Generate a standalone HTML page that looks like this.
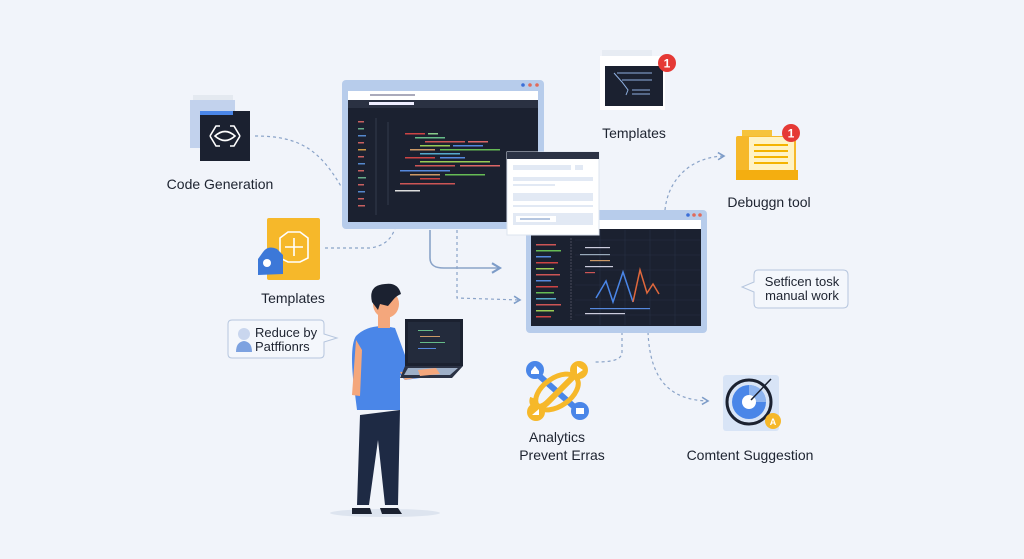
<!DOCTYPE html>
<html><head><meta charset="utf-8"><style>
html,body{margin:0;padding:0;background:#f1f4fa;}
svg{display:block}
text{font-family:"Liberation Sans",sans-serif;fill:#1d2330}
</style></head><body>
<svg width="1024" height="559" viewBox="0 0 1024 559" xmlns="http://www.w3.org/2000/svg">
<defs>
<marker id="ar" markerWidth="8" markerHeight="8" refX="6" refY="4" orient="auto"><path d="M1,1 L6,4 L1,7" fill="none" stroke="#7d9cc8" stroke-width="1.3"/></marker>
</defs>
<rect width="1024" height="559" fill="#f1f4fa"/>

<!-- connectors -->
<g fill="none" stroke="#8aa3c8" stroke-width="1.2" stroke-dasharray="3,3">
<path d="M255,136 C300,136 320,150 342,188"/>
<path d="M325,248 L370,248 C385,246 392,238 395,228"/>
<path d="M457,230 L457,298 L520,300" marker-end="url(#ar)"/>
<path d="M665,210 C668,180 690,157 724,156" marker-end="url(#ar)"/>
<path d="M622,332 L622,352 C622,360 612,362 595,362"/>
<path d="M648,332 C650,380 670,400 708,401" marker-end="url(#ar)"/>
</g>
<path d="M430,230 L430,258 C430,266 436,268 444,268 L500,268" fill="none" stroke="#8aa3c8" stroke-width="1.6" marker-end="url(#ar)"/>

<!-- Window 1 -->
<rect x="342" y="80" width="202" height="149" rx="4" fill="#b7cceb"/>
<circle cx="523" cy="85" r="1.8" fill="#3b6fd8"/><circle cx="530" cy="85" r="1.8" fill="#e06a5a"/><circle cx="537" cy="85" r="1.8" fill="#e06a5a"/>
<rect x="348" y="91" width="190" height="9" fill="#fff"/>
<rect x="370" y="94" width="45" height="2" fill="#aab"/>
<rect x="348" y="100" width="190" height="122" fill="#1b2130"/>
<rect x="348" y="100" width="190" height="8" fill="#2a3142"/>
<rect x="369" y="102" width="45" height="3" fill="#eef"/>
<g stroke-width="1.5">
<line x1="376" y1="118" x2="376" y2="215" stroke="#3a4356" stroke-width="0.8"/>
<line x1="388" y1="122" x2="388" y2="205" stroke="#3a4356" stroke-width="0.8"/>
</g>
<g fill="#c86060">
<rect x="358" y="121" width="6" height="1.5"/><rect x="358" y="128" width="6" height="1.5" fill="#6a8"/><rect x="358" y="135" width="8" height="1.5" fill="#58c"/><rect x="358" y="142" width="6" height="1.5"/><rect x="358" y="149" width="8" height="1.5" fill="#c94"/><rect x="358" y="156" width="6" height="1.5"/><rect x="358" y="163" width="7" height="1.5" fill="#58c"/><rect x="358" y="170" width="6" height="1.5"/><rect x="358" y="177" width="8" height="1.5" fill="#6a8"/><rect x="358" y="184" width="6" height="1.5"/><rect x="358" y="191" width="7" height="1.5" fill="#58c"/><rect x="358" y="198" width="6" height="1.5"/><rect x="358" y="205" width="7" height="1.5"/>
</g>
<g>
<rect x="405" y="133" width="20" height="1.5" fill="#c44"/><rect x="428" y="133" width="10" height="1.5" fill="#8c8"/>
<rect x="415" y="137" width="30" height="1.5" fill="#6b8"/>
<rect x="425" y="141" width="40" height="1.5" fill="#c55"/><rect x="468" y="141" width="20" height="1.5" fill="#d66"/>
<rect x="420" y="145" width="30" height="1.5" fill="#9c5"/><rect x="453" y="145" width="30" height="1.5" fill="#58d"/>
<rect x="410" y="149" width="25" height="1.5" fill="#c96"/><rect x="440" y="149" width="60" height="1.5" fill="#6b5"/>
<rect x="420" y="153" width="40" height="1.5" fill="#5ac"/>
<rect x="405" y="157" width="30" height="1.5" fill="#c44"/><rect x="440" y="157" width="25" height="1.5" fill="#58d"/>
<rect x="420" y="161" width="70" height="1.5" fill="#9c5"/>
<rect x="415" y="165" width="40" height="1.5" fill="#c55"/><rect x="460" y="165" width="40" height="1.5" fill="#d66"/>
<rect x="400" y="170" width="50" height="1.5" fill="#58d"/>
<rect x="410" y="174" width="30" height="1.5" fill="#c96"/><rect x="445" y="174" width="40" height="1.5" fill="#6b5"/>
<rect x="420" y="178" width="20" height="1.5" fill="#c44"/>
<rect x="400" y="183" width="55" height="1.5" fill="#c55"/>
<rect x="395" y="190" width="25" height="1.5" fill="#ddd"/>
</g>

<!-- Window 2 -->
<rect x="526" y="210" width="181" height="123" rx="4" fill="#b7cceb"/>
<circle cx="688" cy="215" r="1.8" fill="#3b6fd8"/><circle cx="694" cy="215" r="1.8" fill="#e06a5a"/><circle cx="700" cy="215" r="1.8" fill="#e06a5a"/>
<rect x="598" y="220" width="103" height="9" fill="#fff"/>
<rect x="531" y="229" width="170" height="97" fill="#1b2130"/>
<g stroke="#283044" stroke-width="0.6">
<line x1="575" y1="240" x2="700" y2="240"/><line x1="575" y1="255" x2="700" y2="255"/><line x1="575" y1="270" x2="700" y2="270"/><line x1="575" y1="285" x2="700" y2="285"/><line x1="575" y1="300" x2="700" y2="300"/><line x1="575" y1="315" x2="700" y2="315"/>
<line x1="600" y1="230" x2="600" y2="325"/><line x1="625" y1="230" x2="625" y2="325"/><line x1="650" y1="230" x2="650" y2="325"/><line x1="675" y1="230" x2="675" y2="325"/>
</g>
<line x1="571" y1="238" x2="571" y2="320" stroke="#556" stroke-width="0.8" stroke-dasharray="2,1"/>
<g>
<rect x="536" y="244" width="20" height="1.5" fill="#c55"/><rect x="536" y="250" width="25" height="1.5" fill="#6b5"/><rect x="536" y="256" width="15" height="1.5" fill="#58d"/><rect x="536" y="262" width="22" height="1.5" fill="#c44"/><rect x="536" y="268" width="18" height="1.5" fill="#9c5"/><rect x="536" y="274" width="24" height="1.5" fill="#c55"/><rect x="536" y="280" width="15" height="1.5" fill="#58d"/><rect x="536" y="286" width="22" height="1.5" fill="#c44"/><rect x="536" y="292" width="18" height="1.5" fill="#6b5"/><rect x="536" y="298" width="20" height="1.5" fill="#5ac"/><rect x="536" y="304" width="25" height="1.5" fill="#c55"/><rect x="536" y="310" width="18" height="1.5" fill="#9c5"/><rect x="536" y="316" width="15" height="1.5" fill="#c44"/>
<rect x="585" y="247" width="25" height="1.2" fill="#ccd"/><rect x="580" y="254" width="30" height="1.2" fill="#9ab"/><rect x="590" y="260" width="20" height="1.2" fill="#c96"/><rect x="585" y="266" width="28" height="1.2" fill="#ccd"/><rect x="585" y="272" width="10" height="1.2" fill="#c55"/>
<rect x="590" y="308" width="60" height="1.2" fill="#58d"/><rect x="585" y="313" width="40" height="1.2" fill="#ccd"/>
</g>
<polyline points="596,298 606,281 613,302 623,272 633,302" fill="none" stroke="#4a86e8" stroke-width="1.5"/>
<polyline points="633,302 640,270 647,293 653,284 659,294" fill="none" stroke="#e0683c" stroke-width="1.5"/>

<!-- Popup -->
<rect x="507" y="152" width="92" height="83" fill="#fff" stroke="#dde4ef"/>
<rect x="507" y="152" width="92" height="7" fill="#2b3244"/>
<rect x="513" y="165" width="58" height="5" fill="#e2e9f4"/><rect x="575" y="165" width="8" height="5" fill="#e2e9f4"/>
<rect x="513" y="177" width="80" height="4" fill="#e2e9f4"/><rect x="513" y="184" width="42" height="2" fill="#e2e9f4"/>
<rect x="513" y="193" width="80" height="8" fill="#e2e9f4"/><rect x="513" y="205" width="80" height="2" fill="#e2e9f4"/>
<rect x="513" y="213" width="80" height="12" fill="#e2e9f4"/><rect x="516" y="216" width="40" height="6" fill="#fff"/><rect x="520" y="218" width="30" height="2" fill="#b5c6e0"/>

<!-- Templates top icon -->
<rect x="602" y="50" width="50" height="55" fill="#e7ecf3"/>
<rect x="600" y="56" width="65" height="54" fill="#fff"/>
<rect x="605" y="66" width="58" height="40" fill="#1b2130"/>
<path d="M614,73 L622,82 L628,90 L626,95 M617,73 L652,73 M622,80 L652,80 M632,90 L650,90 M632,94 L650,94" stroke="#8fb0e0" stroke-width="1" fill="none"/>
<circle cx="667" cy="63" r="9" fill="#e53935"/><text x="667" y="67.5" font-size="12" font-weight="bold" text-anchor="middle" style="fill:#fff">1</text>
<text x="634" y="138" font-size="14" text-anchor="middle">Templates</text>

<!-- Debug tool -->
<rect x="742" y="130" width="30" height="10" fill="#f6c33c"/>
<rect x="736" y="136" width="60" height="44" rx="2" fill="#f6b82a"/>
<rect x="749" y="137" width="45" height="38" fill="#fff3c4"/>
<g fill="#f4b400"><rect x="754" y="144" width="34" height="2"/><rect x="754" y="150" width="34" height="2"/><rect x="754" y="156" width="34" height="2"/><rect x="754" y="162" width="34" height="2"/></g>
<rect x="736" y="170" width="62" height="10" fill="#f4ae10"/>
<circle cx="791" cy="133" r="9" fill="#e53935"/><text x="791" y="137.5" font-size="12" font-weight="bold" text-anchor="middle" style="fill:#fff">1</text>
<text x="769" y="207" font-size="14" text-anchor="middle">Debuggn tool</text>

<!-- speech right -->
<path d="M758,270 L843,270 Q848,270 848,275 L848,303 Q848,308 843,308 L758,308 Q754,308 754,303 L754,292 L742,287 L754,282 L754,275 Q754,270 758,270Z" fill="#f4f7fc" stroke="#b6c6de"/>
<text x="802" y="286" font-size="13" text-anchor="middle">Setficen tosk</text>
<text x="802" y="300" font-size="13" text-anchor="middle">manual work</text>

<!-- Content suggestion -->
<rect x="723" y="375" width="56" height="56" rx="3" fill="#d8e4f6"/>
<circle cx="749" cy="402" r="22" fill="none" stroke="#1b2130" stroke-width="3"/>
<circle cx="749" cy="402" r="17" fill="#4a86e8"/>
<path d="M749,385 A17,17 0 0 1 766,402 L749,402Z" fill="#8fb5ef"/>
<circle cx="749" cy="402" r="7" fill="#fff"/>
<line x1="751" y1="400" x2="771" y2="379" stroke="#1b2130" stroke-width="1.5"/>
<circle cx="773" cy="421" r="8" fill="#f6b82a"/><text x="773" y="425" font-size="9" font-weight="bold" text-anchor="middle" style="fill:#fff">A</text>
<text x="750" y="460" font-size="14" text-anchor="middle">Comtent Suggestion</text>

<!-- Analytics -->
<path d="M535,372 L580,412" stroke="#4a86e8" stroke-width="6"/>
<path d="M578,372 L548,402 C538,412 530,405 533,398" fill="none" stroke="#f6b82a" stroke-width="6"/>
<ellipse cx="557" cy="392" rx="24" ry="14" fill="none" stroke="#f6b82a" stroke-width="5" transform="rotate(-35 557 392)"/>
<circle cx="535" cy="370" r="9" fill="#4a86e8"/><path d="M531,371 L535,366 L539,371 L539,374 L531,374Z" fill="#fff"/>
<circle cx="579" cy="370" r="9" fill="#f6b82a"/><path d="M577,366 L583,370 L577,374Z" fill="#fff"/>
<circle cx="536" cy="412" r="9" fill="#f6b82a"/><path d="M532,415 L539,409 L539,415Z" fill="#fff"/>
<circle cx="580" cy="411" r="9" fill="#4a86e8"/><rect x="576" y="408" width="8" height="6" fill="#fff"/>
<text x="557" y="442" font-size="14" text-anchor="middle">Analytics</text>
<text x="562" y="460" font-size="14" text-anchor="middle">Prevent Erras</text>

<!-- Code generation -->
<rect x="193" y="95" width="40" height="5" fill="#e4e9f0"/>
<rect x="190" y="100" width="45" height="48" fill="#c2d2ed"/>
<rect x="200" y="111" width="50" height="50" fill="#1b2130"/>
<rect x="200" y="111" width="33" height="4" fill="#4a86e8"/>
<path d="M210,136 L216,126 L220,126 M210,136 L216,146 L220,146 M240,136 L234,126 L230,126 M240,136 L234,146 L230,146" stroke="#fff" stroke-width="1.6" fill="none"/>
<path d="M215,136 Q225,127 235,136 Q225,145 215,136Z" fill="none" stroke="#fff" stroke-width="1.6"/>
<text x="220" y="189" font-size="14" text-anchor="middle">Code Generation</text>

<!-- Templates yellow -->
<rect x="267" y="218" width="53" height="62" rx="2" fill="#f6b82a"/>
<path d="M280,238 L288,232 L300,232 L308,238 L308,258 L300,262 L288,262 L280,258Z" fill="none" stroke="#fff" stroke-width="1.6"/>
<path d="M294,238 L294,256 M285,247 L303,247" stroke="#fff" stroke-width="1.6"/>
<path d="M263,252 Q268,245 277,249 L283,255 L283,274 L258,275 L258,259Z" fill="#3c78d8"/>
<circle cx="267" cy="263" r="4" fill="#fff"/>
<text x="293" y="303" font-size="14" text-anchor="middle">Templates</text>

<!-- Reduce bubble -->
<path d="M232,320 L320,320 Q324,320 324,324 L324,334 L337,338 L324,342 L324,354 Q324,358 320,358 L232,358 Q228,358 228,354 L228,324 Q228,320 232,320Z" fill="#f4f7fc" stroke="#b6c6de"/>
<circle cx="244" cy="334" r="6" fill="#c9d6ee"/><path d="M236,352 Q236,342 244,341 Q252,342 252,352Z" fill="#7da2e0"/>
<text x="255" y="337" font-size="13">Reduce by</text>
<text x="255" y="351" font-size="13">Patffionrs</text>

<!-- Person -->
<ellipse cx="385" cy="513" rx="55" ry="4" fill="#dde4ef"/>
<path d="M360,415 L357,505 L369,505 L378,440 L385,505 L398,505 L400,410Z" fill="#1e2a44"/>
<path d="M352,508 L370,508 L372,514 L352,514Z M380,508 L398,508 L402,514 L382,514Z" fill="#1b2130"/>
<path d="M356,336 Q370,322 395,328 L405,355 L405,360 L418,372 L420,378 L405,380 L400,375 L400,410 L357,410 L353,378 Q350,345 356,336Z" fill="#4a86e8"/>
<path d="M356,340 L352,395 L360,396 L362,350Z" fill="#f4a77c"/>
<path d="M400,372 L428,370 L430,375 L405,380Z" fill="#f4a77c"/>
<rect x="378" y="308" width="12" height="20" fill="#f4a77c"/>
<ellipse cx="386" cy="304" rx="13" ry="14" fill="#f4a77c"/>
<path d="M372,302 Q368,285 385,284 Q398,282 401,294 Q396,296 393,300 L388,306 L380,304 L378,310 Z" fill="#1b2130"/>
<path d="M405,319 L463,319 L463,366 L405,366Z" fill="#1b2130"/>
<rect x="408" y="322" width="52" height="41" fill="#232b3c"/>
<g fill="#6b8"><rect x="418" y="330" width="15" height="1"/><rect x="420" y="336" width="20" height="1" fill="#c96"/><rect x="420" y="342" width="25" height="1"/><rect x="418" y="348" width="18" height="1" fill="#58d"/></g>
<path d="M405,366 L463,366 L452,378 L400,378Z" fill="#2b3244"/>
<path d="M408,368 L458,368 L450,375 L404,375Z" fill="#9fb0c8"/>
<path d="M418,370 L436,368 L440,374 L420,376Z" fill="#f4a77c"/>
</svg>
</body></html>
